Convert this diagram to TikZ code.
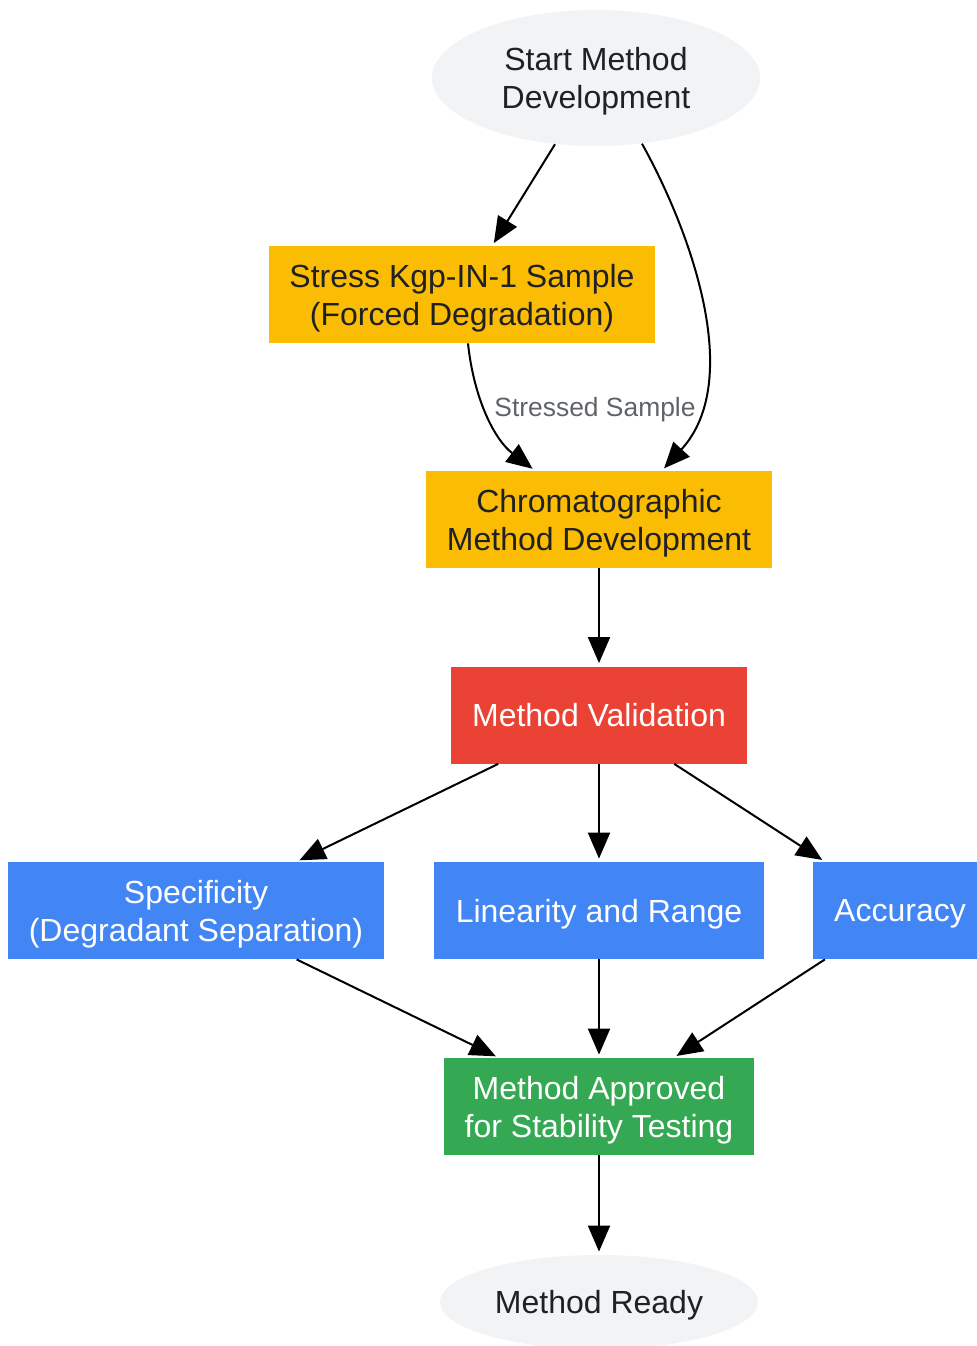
\documentclass[tikz,border=0pt]{standalone}
\usepackage{fontspec}
\setmainfont{Liberation Sans}
\usetikzlibrary{shapes.geometric,arrows.meta}
\definecolor{termgray}{HTML}{F1F3F4}
\definecolor{stepyellow}{HTML}{FBBC04}
\definecolor{stepred}{HTML}{EA4335}
\definecolor{stepblue}{HTML}{4285F4}
\definecolor{stepgreen}{HTML}{34A853}
\definecolor{darktext}{HTML}{202124}
\definecolor{labelgray}{HTML}{5F6368}

\begin{document}
\begin{tikzpicture}[x=0.5pt, y=-0.5pt,
  txt/.style={font=\fontsize{16}{19}\selectfont, align=center, inner sep=0pt, text depth=0pt},
  term/.style={txt, ellipse, fill=termgray, text=darktext},
  stepbox/.style={txt, rectangle, minimum height=48.5pt},
  arr/.style={-{Triangle[length=13pt,width=11pt]}, line width=1pt, shorten >=1.5pt}]
  \useasboundingbox (0,0) rectangle (976,1346);

  \node[term, minimum width=164pt, minimum height=68pt] (start) at (596,78) {Start Method\\Development};
  \node[stepbox, fill=stepyellow, text=darktext, minimum width=193pt] (stress) at (462,294.5) {Stress Kgp-IN-1 Sample\\(Forced Degradation)};
  \node[stepbox, fill=stepyellow, text=darktext, minimum width=173pt] (chrom) at (599,519.5) {Chromatographic\\Method Development};
  \node[stepbox, fill=stepred, text=white, minimum width=148pt] (valid) at (599,715) {Method Validation};
  \node[stepbox, fill=stepblue, text=white, minimum width=188pt] (spec) at (196,910.5) {Specificity\\(Degradant Separation)};
  \node[stepbox, fill=stepblue, text=white, minimum width=165pt] (lin) at (599,910.5) {Linearity and Range};
  \node[stepbox, fill=stepblue, text=white, minimum width=87pt] (acc) at (900,910.5) {Accuracy};
  \node[stepbox, fill=stepgreen, text=white, minimum width=155pt] (appr) at (599,1106.5) {Method Approved\\for Stability Testing};
  \node[term, minimum width=159pt, minimum height=47pt] (ready) at (599,1302) {Method Ready};

  \draw[arr] (start) -- (stress);
  \draw[arr] (start.-55.5) .. controls (690,230) and (745,380) .. ([xshift=31.5pt]chrom.north);
  \draw[arr] ([xshift=3pt]stress.south) .. controls (474,400) and (495,440) .. ([xshift=-32pt]chrom.north);
  \node[font=\fontsize{13.2}{15}\selectfont, text=labelgray, inner sep=0pt] (stresslbl) at (595,409.5) {Stressed Sample};
  \draw[arr] (chrom) -- (valid);
  \draw[arr] (valid) -- (spec);
  \draw[arr] (valid) -- (lin);
  \draw[arr] (valid) -- (acc);
  \draw[arr] (spec) -- (appr);
  \draw[arr] (lin) -- (appr);
  \draw[arr] (acc) -- (appr);
  \draw[arr] (appr) -- (ready);
\end{tikzpicture}
\end{document}
